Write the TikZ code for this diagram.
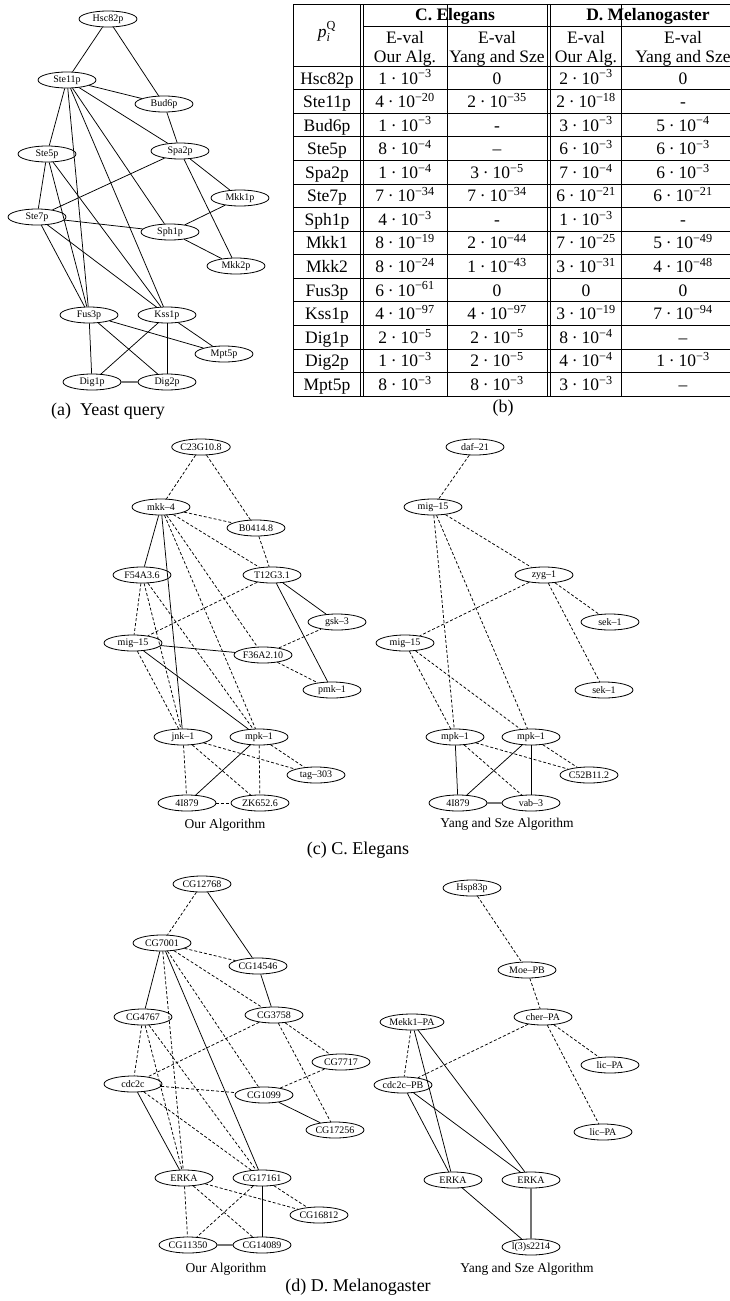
\documentclass[tikz,border=0pt]{standalone}
\usepackage{amsmath}
\usepackage{fontspec}
\setmainfont{Liberation Serif}
\usetikzlibrary{shapes.geometric}

% exponent notation used in the table cells
\newcommand{\ev}[2]{#1\hspace{0.22em}·\hspace{0.22em}10\textsuperscript{−#2}}

\tikzset{
  gnode/.style={draw, ellipse, line width=0.8pt, minimum width=58pt, minimum height=16pt,
                inner sep=0pt, font=\fontsize{10}{12}\selectfont},
  solidedge/.style={line width=0.75pt},
  dashedge/.style={line width=0.75pt, dash pattern=on 3pt off 2pt},
  grayedge/.style={line width=1.6pt, black!55},
  rule/.style={line width=0.6pt},
  cell/.style={anchor=base, inner sep=0pt, font=\fontsize{17.5}{21}\selectfont},
  hcell/.style={cell, font=\fontsize{17.5}{21}\selectfont\bfseries},
  capt/.style={anchor=base, inner sep=0pt, font=\fontsize{18}{22}\selectfont},
  subcapt/.style={anchor=base, inner sep=0pt, font=\fontsize{13.5}{16}\selectfont}
}

\begin{document}
\begin{tikzpicture}[x=1pt, y=-1pt]
\useasboundingbox (0,0) rectangle (729,1301);

%% ---------------- (a) yeast query ----------------
\node[gnode] (aHsc)   at (108,19)  {Hsc82p};
\node[gnode] (aSte11) at (67,80)   {Ste11p};
\node[gnode] (aBud6)  at (164,104) {Bud6p};
\node[gnode] (aSte5)  at (47,154)  {Ste5p};
\node[gnode] (aSpa2)  at (180,151) {Spa2p};
\node[gnode] (aMkk1)  at (240,198) {Mkk1p};
\node[gnode] (aSte7)  at (37,217)  {Ste7p};
\node[gnode] (aSph1)  at (170,232) {Sph1p};
\node[gnode] (aMkk2)  at (236,266) {Mkk2p};
\node[gnode] (aFus3)  at (89,315)  {Fus3p};
\node[gnode] (aKss1)  at (167,315) {Kss1p};
\node[gnode] (aMpt5)  at (224,354) {Mpt5p};
\node[gnode] (aDig1)  at (92,382)  {Dig1p};
\node[gnode] (aDig2)  at (167,382) {Dig2p};

\foreach \u/\v in {aHsc/aSte11, aHsc/aBud6, aSte11/aBud6, aSte11/aSpa2, aSte11/aSte5,
  aSte11/aFus3, aSte11/aKss1, aSte11/aSph1, aBud6/aSpa2, aSpa2/aSte7, aSpa2/aMkk1,
  aSpa2/aMkk2, aSte5/aSte7, aSte5/aFus3, aSte5/aKss1, aSte7/aSph1, aSte7/aFus3,
  aSte7/aKss1, aSph1/aMkk1, aSph1/aMkk2, aFus3/aDig1, aFus3/aDig2, aFus3/aMpt5,
  aKss1/aDig1, aKss1/aDig2, aKss1/aMpt5}
  \draw[solidedge] (\u) -- (\v);
\draw[grayedge] (aDig1) -- (aDig2);

\node[capt] (capa) at (108,415) {(a)\hspace{0.5em}Yeast query};

%% ---------------- (b) table ----------------
% horizontal rules
\draw[rule] (293,4) -- (760,4);
\draw[rule] (363.5,26) -- (760,26);
\draw[rule] (293,66) -- (760,66);
\foreach \i in {1,...,14}
  \draw[rule] (293,{66+\i*23.57}) -- (760,{66+\i*23.57});
% vertical rules (the last column runs past the right edge)
\foreach \x in {293,360,363.5,447,547,550.5,621}
  \draw[rule] (\x,4) -- (\x,396);

\node[hcell] (hCE) at (455,20) {C. Elegans};
\node[hcell] (hDM) at (648,20) {D. Melanogaster};
\node[cell] (hp) at (327,37) {\textit{p}$_{\text{\itshape i}}^{\text{Q}}$};
\node[cell] (h2a) at (405,43) {E-val};
\node[cell] (h3a) at (497,43) {E-val};
\node[cell] (h4a) at (586,43) {E-val};
\node[cell] (h5a) at (683,43) {E-val};
\node[cell] (h2b) at (405,62) {Our Alg.};
\node[cell] (h3b) at (497,62) {Yang and Sze};
\node[cell] (h4b) at (586,62) {Our Alg.};
\node[cell] (h5b) at (683,62) {Yang and Sze};

\foreach \name/\ca/\cb/\cc/\cd [count=\r] in {
  Hsc82p/\ev{1}{3}/0/\ev{2}{3}/0,
  Ste11p/\ev{4}{20}/\ev{2}{35}/\ev{2}{18}/-,
  Bud6p/\ev{1}{3}/-/\ev{3}{3}/\ev{5}{4},
  Ste5p/\ev{8}{4}/–/\ev{6}{3}/\ev{6}{3},
  Spa2p/\ev{1}{4}/\ev{3}{5}/\ev{7}{4}/\ev{6}{3},
  Ste7p/\ev{7}{34}/\ev{7}{34}/\ev{6}{21}/\ev{6}{21},
  Sph1p/\ev{4}{3}/-/\ev{1}{3}/-,
  Mkk1/\ev{8}{19}/\ev{2}{44}/\ev{7}{25}/\ev{5}{49},
  Mkk2/\ev{8}{24}/\ev{1}{43}/\ev{3}{31}/\ev{4}{48},
  Fus3p/\ev{6}{61}/0/0/0,
  Kss1p/\ev{4}{97}/\ev{4}{97}/\ev{3}{19}/\ev{7}{94},
  Dig1p/\ev{2}{5}/\ev{2}{5}/\ev{8}{4}/–,
  Dig2p/\ev{1}{3}/\ev{2}{5}/\ev{4}{4}/\ev{1}{3},
  Mpt5p/\ev{8}{3}/\ev{8}{3}/\ev{3}{3}/–}
{
  \pgfmathsetmacro{\yb}{66+(\r-1)*23.57+18}
  \node[cell] (r\r c1) at (327,\yb) {\name};
  \node[cell] (r\r c2) at (405,\yb) {\ca};
  \node[cell] (r\r c3) at (497,\yb) {\cb};
  \node[cell] (r\r c4) at (586,\yb) {\cc};
  \node[cell] (r\r c5) at (683,\yb) {\cd};
}

\node[capt] (capb) at (503,412) {(b)};

%% ---------------- (c) C. elegans, our algorithm ----------------
\node[gnode] (coC23)  at (201,447) {C23G10.8};
\node[gnode] (coMkk4) at (161,507) {mkk–4};
\node[gnode] (coB04)  at (256,528) {B0414.8};
\node[gnode] (coF54)  at (142,575) {F54A3.6};
\node[gnode] (coT12)  at (272,575) {T12G3.1};
\node[gnode] (coGsk3) at (337,622) {gsk–3};
\node[gnode] (coMig)  at (133,643) {mig–15};
\node[gnode] (coF36)  at (263,655) {F36A2.10};
\node[gnode] (coPmk1) at (332,690) {pmk–1};
\node[gnode] (coJnk1) at (183,737) {jnk–1};
\node[gnode] (coMpk1) at (259,737) {mpk–1};
\node[gnode] (coTag)  at (316,775) {tag–303};
\node[gnode] (coFour) at (187,803) {4I879};
\node[gnode] (coZK)   at (260,803) {ZK652.6};

\foreach \u/\v in {coC23/coMkk4, coC23/coB04, coMkk4/coB04, coMkk4/coT12, coB04/coT12,
  coT12/coMig, coF54/coMig, coF54/coJnk1, coF54/coMpk1, coMig/coJnk1, coF36/coGsk3,
  coF36/coPmk1, coMkk4/coMpk1, coMkk4/coF36, coJnk1/coFour, coJnk1/coZK, coJnk1/coTag,
  coMpk1/coZK, coMpk1/coTag, coFour/coZK}
  \draw[dashedge] (\u) -- (\v);
\foreach \u/\v in {coMkk4/coF54, coMkk4/coJnk1, coT12/coGsk3, coT12/coPmk1,
  coMig/coF36, coMig/coMpk1, coMpk1/coFour}
  \draw[solidedge] (\u) -- (\v);

\node[subcapt] (capco) at (225,828) {Our Algorithm};

%% ---------------- (c) C. elegans, Yang and Sze ----------------
\node[gnode] (cyDaf)  at (475,447) {daf–21};
\node[gnode] (cyMig)  at (433,507) {mig–15};
\node[gnode] (cyZyg)  at (544,575) {zyg–1};
\node[gnode] (cySekA) at (610,622) {sek–1};
\node[gnode] (cyMigB) at (405,643) {mig–15};
\node[gnode] (cySekB) at (604,690) {sek–1};
\node[gnode] (cyMpkL) at (455,737) {mpk–1};
\node[gnode] (cyMpkR) at (531,737) {mpk–1};
\node[gnode] (cyC52)  at (589,775) {C52B11.2};
\node[gnode] (cyFour) at (458,803) {4I879};
\node[gnode] (cyVab)  at (531,803) {vab–3};

\foreach \u/\v in {cyDaf/cyMig, cyMig/cyZyg, cyMig/cyMpkL, cyMig/cyMpkR, cyZyg/cyMigB,
  cyZyg/cySekA, cyZyg/cySekB, cyMigB/cyMpkL, cyMigB/cyMpkR, cyMpkL/cyVab,
  cyMpkL/cyC52, cyMpkR/cyC52}
  \draw[dashedge] (\u) -- (\v);
\foreach \u/\v in {cyMpkL/cyFour, cyMpkR/cyFour, cyMpkR/cyVab}
  \draw[solidedge] (\u) -- (\v);
\draw[grayedge] (cyFour) -- (cyVab);

\node[subcapt] (capcy) at (507,827) {Yang and Sze Algorithm};
\node[capt] (capc) at (358,854) {(c) C. Elegans};

%% ---------------- (d) D. melanogaster, our algorithm ----------------
\node[gnode] (doA) at (202,884)  {CG12768};
\node[gnode] (doB) at (162,943)  {CG7001};
\node[gnode] (doC) at (258,966)  {CG14546};
\node[gnode] (doD) at (143,1017) {CG4767};
\node[gnode] (doE) at (274,1015) {CG3758};
\node[gnode] (doF) at (341,1062) {CG7717};
\node[gnode] (doG) at (133,1084) {cdc2c};
\node[gnode] (doH) at (264,1095) {CG1099};
\node[gnode] (doI) at (335,1130) {CG17256};
\node[gnode] (doJ) at (184,1178) {ERKA};
\node[gnode] (doK) at (262,1178) {CG17161};
\node[gnode] (doL) at (319,1215) {CG16812};
\node[gnode] (doM) at (188,1245) {CG11350};
\node[gnode] (doN) at (262,1245) {CG14089};

\foreach \u/\v in {doA/doB, doB/doC, doB/doE, doB/doJ, doB/doH, doD/doG, doD/doJ, doD/doK,
  doE/doG, doE/doF, doE/doI, doG/doH, doG/doK, doH/doF, doJ/doM, doJ/doN, doJ/doL,
  doK/doM, doK/doL}
  \draw[dashedge] (\u) -- (\v);
\foreach \u/\v in {doA/doC, doB/doD, doB/doK, doC/doE, doG/doJ, doH/doI, doK/doN}
  \draw[solidedge] (\u) -- (\v);
\draw[grayedge] (doM) -- (doN);

\node[subcapt] (capdo) at (226,1272) {Our Algorithm};

%% ---------------- (d) D. melanogaster, Yang and Sze ----------------
\node[gnode] (dyHsp)  at (472,888)  {Hsp83p};
\node[gnode] (dyMoe)  at (527,970)  {Moe–PB};
\node[gnode] (dyCher) at (543,1017) {cher–PA};
\node[gnode] (dyMekk) at (412,1022) {Mekk1–PA};
\node[gnode] (dyLicA) at (610,1065) {lic–PA};
\node[gnode] (dyCdc)  at (403,1085) {cdc2c–PB};
\node[gnode] (dyLicB) at (603,1132) {lic–PA};
\node[gnode] (dyErkL) at (453,1180) {ERKA};
\node[gnode] (dyErkR) at (531,1180) {ERKA};
\node[gnode] (dyL3)   at (531,1247) {l(3)s2214};

\foreach \u/\v in {dyHsp/dyMoe, dyMoe/dyCher, dyCher/dyCdc, dyCher/dyLicA, dyCher/dyLicB,
  dyMekk/dyCdc}
  \draw[dashedge] (\u) -- (\v);
\foreach \u/\v in {dyMekk/dyErkL, dyMekk/dyErkR, dyCdc/dyErkL, dyCdc/dyErkR, dyErkL/dyL3}
  \draw[solidedge] (\u) -- (\v);
\draw[grayedge] (dyErkR) -- (dyL3);

\node[subcapt] (capdy) at (527,1272) {Yang and Sze Algorithm};
\node[capt] (capd) at (358,1291) {(d) D. Melanogaster};

\end{tikzpicture}
\end{document}
